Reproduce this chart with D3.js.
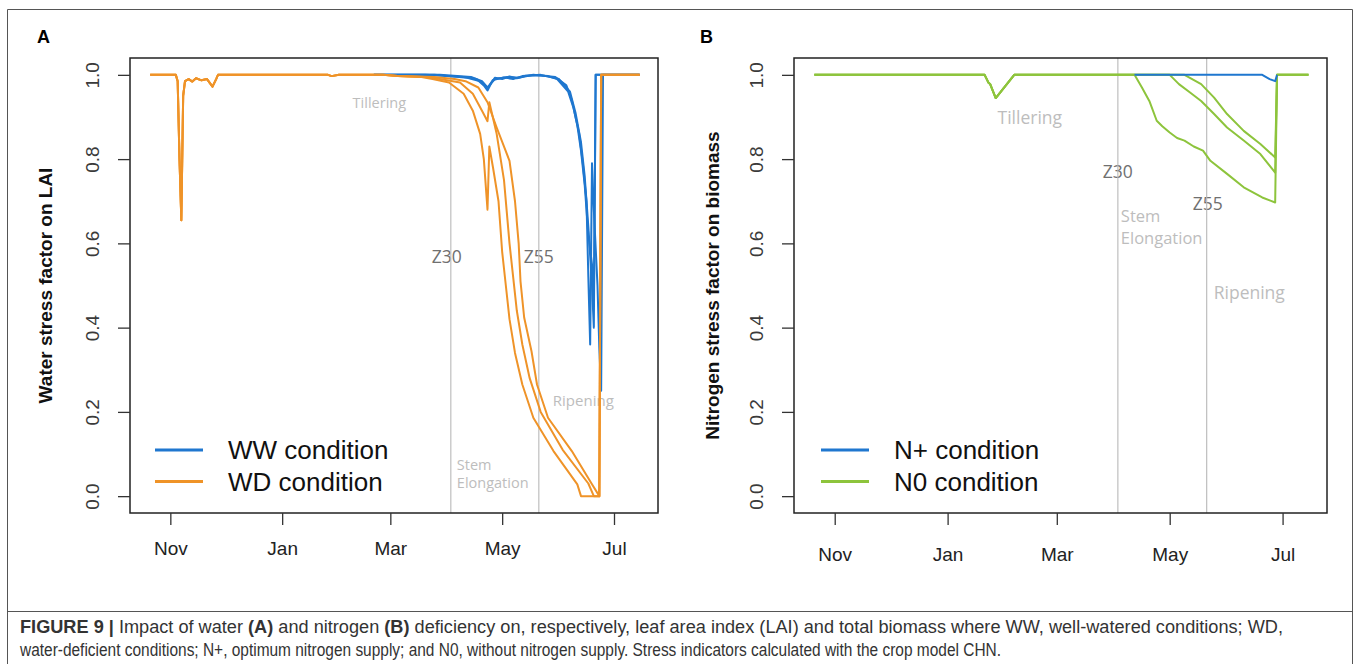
<!DOCTYPE html>
<html>
<head>
<meta charset="utf-8">
<script src="https://cdn.jsdelivr.net/npm/d3@7"></script>
<style>
	body { margin:0; background:#fff; }
	svg { display:block; }
</style>
</head>
<body>
<svg id="fig" width="1358" height="664"></svg>
<script>

// ---- DATA ----
// x ticks, y ticks
const monthTicks = ['2016-11-01','2017-01-01','2017-03-01','2017-05-01','2017-07-01'];
const stressTicks = [0, 0.2, 0.4, 0.6, 0.8, 1.0];
const xDomain = ['2016-10-10','2017-07-25'];

// growth stage markers (Z30, Z55)
const stageDates = ['2017-04-03','2017-05-21'];
const stageNames = ['Z30','Z55'];

// Panel A: water stress on LAI
const wdAutumn = [
	['2016-10-21',1.0],['2016-11-04',1.0],['2016-11-05',0.985],['2016-11-06',0.80],['2016-11-07',0.655],
	['2016-11-08',0.95],['2016-11-09',0.985],['2016-11-11',0.99],['2016-11-13',0.984],['2016-11-15',0.992],
	['2016-11-18',0.987],['2016-11-21',0.99],['2016-11-23',0.978],['2016-11-24',0.972],['2016-11-26',0.99],
	['2016-11-27',1.0],['2017-01-26',1.0],['2017-01-28',0.997],['2017-02-01',1.0],['2017-02-25',1.0]
];
const wdSpring1 = [
	['2017-03-05',0.997],['2017-03-18',0.995],['2017-03-24',0.99],['2017-04-02',0.982],['2017-04-10',0.955],
	['2017-04-15',0.915],['2017-04-19',0.86],['2017-04-21',0.80],['2017-04-23',0.68],['2017-04-24',0.83],
	['2017-04-26',0.78],['2017-04-29',0.70],['2017-05-01',0.58],['2017-05-03',0.50],['2017-05-05',0.42],
	['2017-05-08',0.34],['2017-05-12',0.265],['2017-05-18',0.186],['2017-05-29',0.107],['2017-06-11',0.028],
	['2017-06-13',0.0],['2017-06-23',0.0],['2017-06-24',1.0],['2017-07-15',1.0]
];
const wdSpring2 = [
	['2017-03-05',0.997],['2017-03-20',0.995],['2017-03-28',0.99],['2017-04-08',0.982],['2017-04-15',0.955],
	['2017-04-20',0.915],['2017-04-23',0.89],['2017-04-24',0.935],['2017-04-28',0.86],['2017-05-02',0.75],
	['2017-05-05',0.60],['2017-05-07',0.52],['2017-05-09',0.44],['2017-05-12',0.36],['2017-05-16',0.28],
	['2017-05-22',0.20],['2017-06-03',0.11],['2017-06-17',0.03],['2017-06-20',0.0],['2017-06-23',0.0],
	['2017-06-24',1.0],['2017-07-15',1.0]
];
const wdSpring3 = [
	['2017-03-05',0.997],['2017-03-25',0.995],['2017-04-05',0.99],['2017-04-11',0.985],['2017-04-18',0.97],
	['2017-04-23',0.935],['2017-04-28',0.875],['2017-05-05',0.796],['2017-05-08',0.70],['2017-05-10',0.60],
	['2017-05-11',0.51],['2017-05-13',0.424],['2017-05-17',0.344],['2017-05-20',0.265],['2017-05-26',0.186],
	['2017-06-08',0.107],['2017-06-19',0.028],['2017-06-23',0.0],['2017-06-24',1.0],['2017-07-15',1.0]
];
const wwRep1 = [
	['2017-02-20',1.0],['2017-03-20',1.0],['2017-04-10',0.995],['2017-04-17',0.99],['2017-04-21',0.975],
	['2017-04-23',0.963],['2017-04-25',0.98],['2017-04-27',0.993],['2017-05-01',0.99],['2017-05-05',0.996],
	['2017-05-09',0.992],['2017-05-14',0.998],['2017-05-20',0.999],['2017-05-26',0.997],['2017-05-31',0.99],
	['2017-06-06',0.96],['2017-06-09',0.92],['2017-06-12',0.86],['2017-06-14',0.79],['2017-06-16',0.70],
	['2017-06-17',0.52],['2017-06-18',0.36],['2017-06-19',0.79],['2017-06-20',0.68],['2017-06-22',0.50],
	['2017-06-23',0.35],['2017-06-24',0.25],['2017-06-25',1.0],['2017-07-15',1.0]
];
const wwRep2 = [
	['2017-02-20',1.0],['2017-03-25',1.0],['2017-04-12',0.993],['2017-04-19',0.985],['2017-04-23',0.968],
	['2017-04-26',0.988],['2017-05-02',0.994],['2017-05-07',0.99],['2017-05-12',0.997],['2017-05-22',1.0],
	['2017-06-01',0.99],['2017-06-07',0.96],['2017-06-10',0.91],['2017-06-13',0.84],['2017-06-15',0.76],
	['2017-06-17',0.64],['2017-06-19',0.50],['2017-06-20',0.40],['2017-06-21',1.0],['2017-07-15',1.0]
];
const wwRep3 = [
	['2017-02-20',1.0],['2017-03-28',1.0],['2017-04-14',0.995],['2017-04-20',0.985],['2017-04-23',0.97],
	['2017-04-27',0.99],['2017-05-04',0.995],['2017-05-10',0.993],['2017-05-18',1.0],['2017-05-30',0.995],
	['2017-06-05',0.975],['2017-06-08',0.94],['2017-06-11',0.88],['2017-06-13',0.82],['2017-06-15',0.74],
	['2017-06-17',0.62],['2017-06-19',0.55],['2017-06-20',0.45],['2017-06-21',1.0],['2017-07-15',1.0]
];

// Panel B: nitrogen stress on biomass
const n0Winter = [
	['2016-10-21',1.0],['2017-01-21',1.0],['2017-01-23',0.982],['2017-01-24',0.978],['2017-01-27',0.945],
	['2017-02-06',1.0]
];
const n0Spring1 = [
	['2017-04-12',1.0],['2017-04-16',0.97],['2017-04-20',0.938],['2017-04-24',0.891],['2017-04-27',0.878],
	['2017-05-01',0.863],['2017-05-05',0.85],['2017-05-09',0.844],['2017-05-14',0.83],['2017-05-19',0.820],
	['2017-05-23',0.796],['2017-06-01',0.765],['2017-06-10',0.733],['2017-06-20',0.709],['2017-06-27',0.697],
	['2017-06-28',1.0],['2017-07-15',1.0]
];
const n0Spring2 = [
	['2017-05-01',1.0],['2017-05-06',0.978],['2017-05-12',0.958],['2017-05-18',0.938],['2017-05-25',0.907],
	['2017-06-01',0.875],['2017-06-10',0.844],['2017-06-19',0.812],['2017-06-27',0.768],['2017-06-28',1.0],
	['2017-07-15',1.0]
];
const n0Spring3 = [
	['2017-05-09',1.0],['2017-05-18',0.978],['2017-05-25',0.946],['2017-06-01',0.907],['2017-06-10',0.867],
	['2017-06-19',0.836],['2017-06-27',0.804],['2017-06-28',1.0],['2017-07-15',1.0]
];
const nPlusRep = [
	['2017-04-12',1.0],['2017-06-20',1.0],['2017-06-24',0.99],['2017-06-27',0.985],['2017-06-28',1.0]
];

// ---- STYLE ----
const BLUE = '#1f77cf';
const ORANGE = '#ef9328';
const GREEN = '#8dc43c';

const parse = d3.timeParse('%Y-%m-%d');
const toPts = arr => arr.map(([d, v]) => ({date: parse(d), v: v}));

const svg = d3.select('#fig');

// outer frame + caption separator
const frame = svg.append('g').attr('fill','none').attr('stroke','#555').attr('stroke-width',1);
frame.append('path').attr('d','M7.5,664 V9.5 H1352.5 V664');
frame.append('line').attr('x1',7.5).attr('x2',1352.5).attr('y1',611.5).attr('y2',611.5);

function drawPanel(cfg) {
	const x = d3.scaleTime()
		.domain(xDomain.map(parse))
		.range([cfg.left, cfg.right]);
	const y = d3.scaleLinear()
		.domain([-0.04, 1.04])
		.range([cfg.bottom, cfg.top]);

	const g = svg.append('g');

	// panel letter
	g.append('text')
		.attr('x', cfg.letterX).attr('y', 43)
		.attr('font-family','Liberation Sans, Arial, sans-serif')
		.attr('font-weight','bold').attr('font-size',18)
		.text(cfg.letter);

	// y axis title
	g.append('text')
		.attr('transform', `translate(${cfg.titleX},${(cfg.top+cfg.bottom)/2}) rotate(-90)`)
		.attr('text-anchor','middle').attr('dy','0.35em')
		.attr('font-family','Liberation Sans, Arial, sans-serif')
		.attr('font-weight','bold').attr('font-size',19).attr('fill','#111')
		.text(cfg.yTitle);

	// stage annotations (drawn under the lines)
	const ann = g.append('g').attr('font-family','Open Sans, sans-serif');
	cfg.notes.forEach(n => {
		ann.append('text')
			.attr('x', x(parse(n.date)) + n.dx)
			.attr('y', y(n.v))
			.attr('text-anchor', n.anchor)
			.attr('font-size', n.size)
			.attr('fill', n.color)
			.text(n.text);
	});

	// Z30 / Z55 vertical lines
	g.selectAll('line.stage').data(stageDates).enter().append('line')
		.attr('class','stage')
		.attr('x1', d => x(parse(d))).attr('x2', d => x(parse(d)))
		.attr('y1', cfg.top).attr('y2', cfg.bottom)
		.attr('stroke','#b8b8b8').attr('stroke-width',1.1);

	// series
	const line = d3.line().x(d => x(d.date)).y(d => y(d.v));
	cfg.series.forEach(s => {
		g.append('path')
			.datum(toPts(s.pts))
			.attr('d', line)
			.attr('fill','none')
			.attr('stroke', s.color)
			.attr('stroke-width', 2)
			.attr('stroke-linejoin','round');
	});

	// plot box
	g.append('rect')
		.attr('x', cfg.left).attr('y', cfg.top)
		.attr('width', cfg.right-cfg.left).attr('height', cfg.bottom-cfg.top)
		.attr('fill','none').attr('stroke','#222').attr('stroke-width',1.5);

	// y axis
	const yAxis = g.append('g')
		.attr('transform', `translate(${cfg.left},0)`)
		.call(d3.axisLeft(y).tickValues(stressTicks).tickFormat(d3.format('.1f')).tickSize(12));
	yAxis.select('.domain').remove();
	yAxis.selectAll('line').attr('stroke','#333').attr('stroke-width',1.3);
	yAxis.selectAll('text')
		.attr('x', 0).attr('dy','0.35em')
		.attr('transform','translate(-38,0) rotate(-90)')
		.attr('text-anchor','middle')
		.attr('font-family','Liberation Sans, Arial, sans-serif')
		.attr('font-size',19).attr('fill','#3a3a3a');

	// x axis
	const xAxis = g.append('g')
		.attr('transform', `translate(0,${cfg.bottom})`)
		.call(d3.axisBottom(x).tickValues(monthTicks.map(parse)).tickFormat(d3.timeFormat('%b')).tickSize(12));
	xAxis.select('.domain').remove();
	xAxis.selectAll('line').attr('stroke','#333').attr('stroke-width',1.3);
	xAxis.selectAll('text')
		.attr('y', cfg.xLabelY).attr('dy','0')
		.attr('font-family','Liberation Sans, Arial, sans-serif')
		.attr('font-size',19).attr('fill','#222');

	// legend
	const leg = g.append('g');
	cfg.legend.forEach((l, i) => {
		const ly = 450 + i*31.5;
		leg.append('line')
			.attr('x1', cfg.legX).attr('x2', cfg.legX+48)
			.attr('y1', ly).attr('y2', ly)
			.attr('stroke', l.color).attr('stroke-width',3);
		leg.append('text')
			.attr('x', cfg.legX+73).attr('y', ly+9)
			.attr('font-family','Liberation Sans, Arial, sans-serif')
			.attr('font-size',26).attr('fill','#111')
			.text(l.text);
	});
}

const LIGHT = '#bdbdbd';
const MID = '#707070';

drawPanel({
	letter:'A', letterX:37, titleX:45,
	left:130, right:658, top:58, bottom:513, xLabelY:42, legX:155,
	yTitle:'Water stress factor on LAI',
	series:[
		{pts:wwRep3, color:BLUE},{pts:wwRep2, color:BLUE},{pts:wwRep1, color:BLUE},
		{pts:wdAutumn.concat(wdSpring3), color:ORANGE},
		{pts:wdAutumn.concat(wdSpring2), color:ORANGE},
		{pts:wdAutumn.concat(wdSpring1), color:ORANGE}
	],
	legend:[{text:'WW condition', color:BLUE},{text:'WD condition', color:ORANGE}],
	notes:[
		{text:'Tillering', date:'2017-02-23', v:0.921, dx:0, anchor:'middle', size:14.5, color:LIGHT},
		{text:stageNames[0], date:stageDates[0], v:0.553, dx:-4, anchor:'middle', size:17.5, color:MID},
		{text:stageNames[1], date:stageDates[1], v:0.553, dx:0, anchor:'middle', size:17.5, color:MID},
		{text:'Stem', date:stageDates[0], v:0.062, dx:6, anchor:'start', size:14.5, color:LIGHT},
		{text:'Elongation', date:stageDates[0], v:0.019, dx:6, anchor:'start', size:14.5, color:LIGHT},
		{text:'Ripening', date:stageDates[1], v:0.214, dx:14, anchor:'start', size:15, color:LIGHT}
	]
});

drawPanel({
	letter:'B', letterX:700, titleX:712,
	left:794, right:1327, top:58, bottom:513, xLabelY:48, legX:821,
	yTitle:'Nitrogen stress factor on biomass',
	series:[
		{pts:n0Winter.concat(n0Spring1), color:GREEN},
		{pts:n0Winter.concat(n0Spring2), color:GREEN},
		{pts:n0Winter.concat(n0Spring3), color:GREEN},
		{pts:nPlusRep, color:BLUE}
	],
	legend:[{text:'N+ condition', color:BLUE},{text:'N0 condition', color:GREEN}],
	notes:[
		{text:'Tillering', date:'2017-01-28', v:0.883, dx:0, anchor:'start', size:17.5, color:LIGHT},
		{text:stageNames[0], date:stageDates[0], v:0.755, dx:0, anchor:'middle', size:17.5, color:MID},
		{text:stageNames[1], date:stageDates[1], v:0.679, dx:1, anchor:'middle', size:17.5, color:MID},
		{text:'Stem', date:stageDates[0], v:0.650, dx:3, anchor:'start', size:16.5, color:LIGHT},
		{text:'Elongation', date:stageDates[0], v:0.599, dx:3, anchor:'start', size:16.5, color:LIGHT},
		{text:'Ripening', date:stageDates[1], v:0.468, dx:7, anchor:'start', size:17.5, color:LIGHT}
	]
});

// ---- CAPTION ----
const cap = svg.append('g')
	.attr('font-family','Liberation Sans, Arial, sans-serif')
	.attr('font-size',17.5).attr('fill','#333');

const line1 = cap.append('text').attr('x',20).attr('y',633)
	.attr('textLength',1263).attr('lengthAdjust','spacingAndGlyphs');
[['FIGURE 9 | ',true],['Impact of water ',false],['(A)',true],[' and nitrogen ',false],['(B)',true],
 [' deficiency on, respectively, leaf area index (LAI) and total biomass where WW, well-watered conditions; WD,',false]]
	.forEach(([t,b]) => line1.append('tspan').attr('font-weight', b ? 'bold' : 'normal').text(t));

cap.append('text').attr('x',20).attr('y',656)
	.attr('textLength',981).attr('lengthAdjust','spacingAndGlyphs')
	.text('water-deficient conditions; N+, optimum nitrogen supply; and N0, without nitrogen supply. Stress indicators calculated with the crop model CHN.');

</script>
</body>
</html>
